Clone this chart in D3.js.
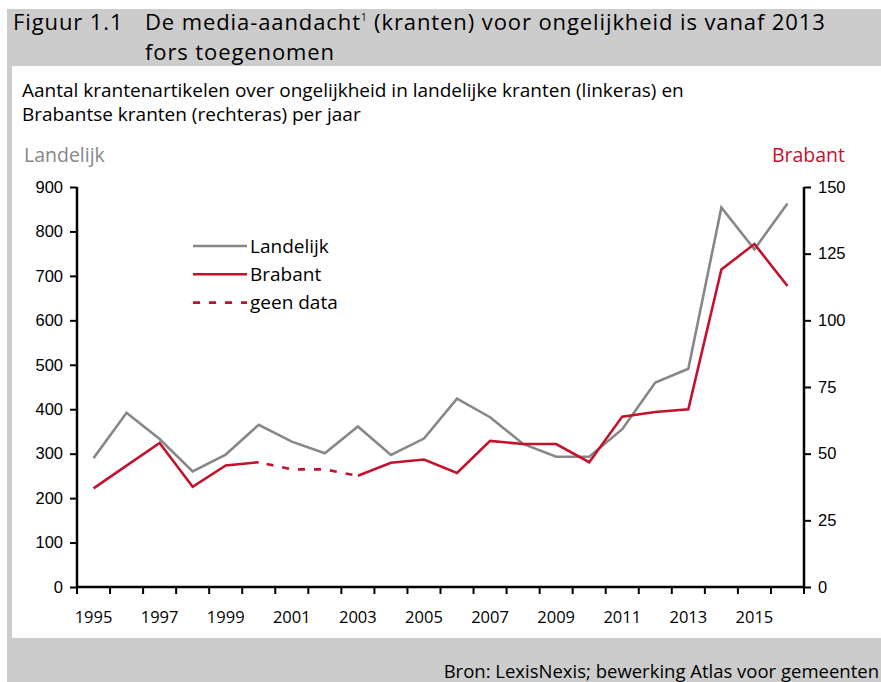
<!DOCTYPE html>
<html>
<head>
<meta charset="utf-8">
<script src="https://cdn.jsdelivr.net/npm/d3@7"></script>
<style>
  body { margin: 0; background: #fff; }
  svg { display: block; font-family: "Open Sans", "Noto Sans", sans-serif; }
</style>
</head>
<body>
<div id="chart"></div>
<script>
var years = [1995, 1996, 1997, 1998, 1999, 2000, 2001, 2002, 2003, 2004, 2005,
             2006, 2007, 2008, 2009, 2010, 2011, 2012, 2013, 2014, 2015, 2016];
var landelijk = [290, 392, 333, 260, 298, 365, 327, 301, 361, 297, 334,
                 424, 382, 322, 293, 293, 355, 460, 491, 854, 760, 863];
var brabant = [37, 45.5, 54, 37.6, 45.6, 46.8, 44.1, 44.1, 41.7, 46.6, 47.8,
               42.8, 54.8, 53.6, 53.6, 46.8, 63.9, 65.6, 66.6, 119.1, 128.6, 112.9];
var geenData = [2001, 2002];
var leftTicks = [0, 100, 200, 300, 400, 500, 600, 700, 800, 900];
var rightTicks = [0, 25, 50, 75, 100, 125, 150];
var yearLabels = [1995, 1997, 1999, 2001, 2003, 2005, 2007, 2009, 2011, 2013, 2015];
var legendItems = ["Landelijk", "Brabant", "geen data"];

var W = 881, H = 682;
var grey = "#878787", red = "#c3122d";
var margin = {top: 187, right: 77, bottom: 95, left: 77};
var width = W - margin.left - margin.right,
    height = H - margin.top - margin.bottom;

var svg = d3.select("#chart").append("svg")
    .attr("width", W)
    .attr("height", H);

// frame
svg.append("rect").attr("x", 7).attr("y", 9).attr("width", W - 7).attr("height", H - 9).attr("fill", "#cccccc");
svg.append("rect").attr("x", 12).attr("y", 66).attr("width", W - 12).attr("height", 572).attr("fill", "#fff");

var title = svg.append("g").attr("font-size", 22).attr("fill", "#000");
title.append("text").attr("x", 13).attr("y", 30).attr("letter-spacing", 0.9).text("Figuur 1.1");
var t1 = title.append("text").attr("x", 145).attr("y", 29.5).attr("letter-spacing", 0.9);
t1.append("tspan").text("De media-aandacht");
t1.append("tspan").attr("font-size", 10).attr("dy", -9).text("1");
t1.append("tspan").attr("dy", 9).text(" (kranten) voor ongelijkheid is vanaf 2013");
title.append("text").attr("x", 145).attr("y", 59.5).attr("letter-spacing", 0.9).text("fors toegenomen");

svg.append("text").attr("x", 22).attr("y", 97).attr("font-size", 19)
    .text("Aantal krantenartikelen over ongelijkheid in landelijke kranten (linkeras) en");
svg.append("text").attr("x", 22).attr("y", 121).attr("font-size", 19)
    .text("Brabantse kranten (rechteras) per jaar");

svg.append("text").attr("x", 24).attr("y", 162).attr("font-size", 19.5).attr("fill", grey).text("Landelijk");
svg.append("text").attr("x", 845).attr("y", 162).attr("font-size", 19.5).attr("fill", red)
    .attr("text-anchor", "end").text("Brabant");

svg.append("text").attr("x", 879).attr("y", 678).attr("font-size", 18.5)
    .attr("text-anchor", "end").text("Bron: LexisNexis; bewerking Atlas voor gemeenten");

var g = svg.append("g").attr("transform", "translate(" + margin.left + "," + margin.top + ")");

var x = d3.scaleBand().domain(years).range([0, width]);
var yL = d3.scaleLinear().domain([0, 900]).range([height, 0]);
var yR = d3.scaleLinear().domain([0, 150]).range([height, 0]);
var cx = function(i) { return x(years[i]) + x.bandwidth() / 2; };

// lines
var greyLine = d3.line().x(function(d, i) { return cx(i); }).y(function(d) { return yL(d); });
g.append("path").datum(landelijk)
    .attr("fill", "none").attr("stroke", grey).attr("stroke-width", 2.6)
    .attr("stroke-linejoin", "miter").attr("d", greyLine);

var isGeen = function(i) { return geenData.indexOf(years[i]) >= 0; };
var solid = d3.line()
    .defined(function(d, i) { return !isGeen(i); })
    .x(function(d, i) { return cx(i); }).y(function(d) { return yR(d); });
var dashed = d3.line()
    .defined(function(d, i) { return isGeen(i) || (i > 0 && isGeen(i - 1)) || (i < years.length - 1 && isGeen(i + 1)); })
    .x(function(d, i) { return cx(i); }).y(function(d) { return yR(d); });
g.append("path").datum(brabant)
    .attr("fill", "none").attr("stroke", red).attr("stroke-width", 2.6).attr("d", solid);
g.append("path").datum(brabant)
    .attr("fill", "none").attr("stroke", red).attr("stroke-width", 2.6)
    .attr("stroke-dasharray", "7,9").attr("stroke-dashoffset", -8).attr("d", dashed);

// axes
var xAxis = g.append("g").attr("class", "xAxis").attr("transform", "translate(0," + height + ")");
xAxis.append("line").attr("x1", 0).attr("x2", width).attr("stroke", "#000").attr("stroke-width", 2.5);
var bounds = years.map(function(d) { return x(d); }).concat([width]);
xAxis.selectAll(".tk").data(bounds).enter().append("line")
    .attr("x1", function(d) { return d; }).attr("x2", function(d) { return d; })
    .attr("y1", 0).attr("y2", 7).attr("stroke", "#000").attr("stroke-width", 2);
xAxis.selectAll(".lbl").data(yearLabels).enter().append("text")
    .attr("x", function(d) { return x(d) + x.bandwidth() / 2; })
    .attr("y", 36).attr("text-anchor", "middle").attr("font-size", 16.5)
    .text(function(d) { return d; });

g.append("g").attr("class", "leftAxis")
    .call(d3.axisLeft(yL).tickValues(leftTicks).tickSize(7).tickPadding(7))
    .call(function(s) {
      s.select(".domain").attr("d", "M0," + (height + 1.25) + "V0").attr("stroke-width", 2.5);
      s.selectAll(".tick line").attr("stroke-width", 2);
      s.selectAll(".tick text").attr("font-size", 16.5).attr("font-family", null).attr("fill", "#000");
    });

g.append("g").attr("class", "rightAxis").attr("transform", "translate(" + width + ",0)")
    .call(d3.axisRight(yR).tickValues(rightTicks).tickSize(7).tickPadding(7))
    .call(function(s) {
      s.select(".domain").attr("d", "M0," + (height + 1.25) + "V0").attr("stroke-width", 2.5);
      s.selectAll(".tick line").attr("stroke-width", 2);
      s.selectAll(".tick text").attr("font-size", 16.5).attr("font-family", null).attr("fill", "#000");
    });

// legend
var legend = svg.append("g").attr("transform", "translate(193,246)");
var lg = legend.selectAll("g").data(legendItems).enter().append("g")
    .attr("transform", function(d, i) { return "translate(0," + (i * 28.3) + ")"; });
lg.append("line").attr("x1", 0).attr("x2", 54)
    .attr("stroke", function(d, i) { return i === 0 ? grey : red; })
    .attr("stroke-width", 2.6)
    .attr("stroke-dasharray", function(d, i) { return i === 2 ? "7,9" : null; });
lg.append("text").attr("x", 57).attr("y", 6.5).attr("font-size", 19)
    .text(function(d) { return d; });
</script>
</body>
</html>
